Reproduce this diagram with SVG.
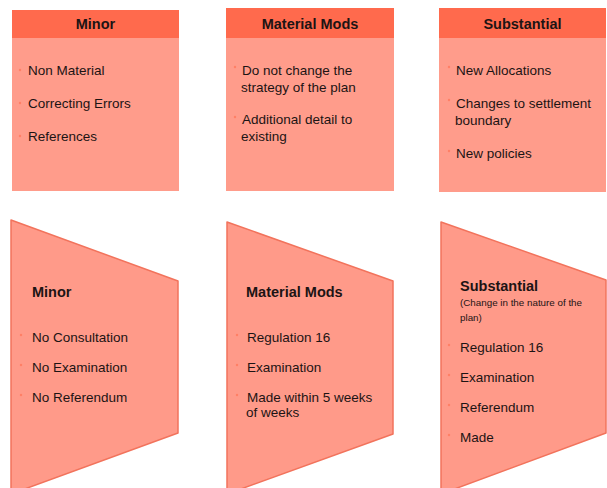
<svg xmlns="http://www.w3.org/2000/svg" width="607" height="488" viewBox="0 0 607 488">
  <style>
    .hdr { fill: #ff6a4d; }
    .body { fill: #ff9c8b; }
    .trap { fill: #ff9a89; stroke: #f2735c; stroke-width: 1.5; stroke-linejoin: round; }
    text { font-family: "Liberation Sans", Arial, sans-serif; fill: #1c1414; }
    .title { font-size: 14.5px; font-weight: bold; }
    .item { font-size: 13.5px; }
    .note { font-size: 9.8px; }
    .dot { fill: #ff7f66; }
  </style>
  <rect width="607" height="488" fill="#ffffff"/>

  <!-- Upper row: category cards -->
  <g id="card-minor">
    <rect class="body" x="12" y="10" width="167" height="181"/>
    <rect class="hdr" x="12" y="10" width="167" height="28"/>
    <text class="title" x="95.5" y="29" text-anchor="middle">Minor</text>
    <circle class="dot" cx="20" cy="70" r="1.2"/>
    <text class="item" x="28" y="75">Non Material</text>
    <circle class="dot" cx="20" cy="103" r="1.2"/>
    <text class="item" x="28" y="108">Correcting Errors</text>
    <circle class="dot" cx="20" cy="136" r="1.2"/>
    <text class="item" x="28" y="141">References</text>
  </g>

  <g id="card-material">
    <rect class="body" x="226" y="8" width="168" height="183"/>
    <rect class="hdr" x="226" y="8" width="168" height="30"/>
    <text class="title" x="310" y="29" text-anchor="middle">Material Mods</text>
    <circle class="dot" cx="235" cy="67" r="1.2"/>
    <text class="item" x="242" y="75">Do not change the</text>
    <text class="item" x="241" y="92">strategy of the plan</text>
    <circle class="dot" cx="235" cy="117" r="1.2"/>
    <text class="item" x="242" y="124">Additional detail to</text>
    <text class="item" x="241" y="141">existing</text>
  </g>

  <g id="card-substantial">
    <rect class="body" x="439" y="8" width="167" height="184"/>
    <rect class="hdr" x="439" y="8" width="167" height="30"/>
    <text class="title" x="522.5" y="29" text-anchor="middle">Substantial</text>
    <circle class="dot" cx="449" cy="67" r="1.2"/>
    <text class="item" x="456" y="75">New Allocations</text>
    <circle class="dot" cx="449" cy="100" r="1.2"/>
    <text class="item" x="456" y="108">Changes to settlement</text>
    <text class="item" x="455" y="125">boundary</text>
    <circle class="dot" cx="449" cy="151" r="1.2"/>
    <text class="item" x="456" y="158">New policies</text>
  </g>

  <!-- Lower row: process trapezoids -->
  <g id="process-minor">
    <polygon class="trap" points="11,220 178,281 178,433 11,494"/>
    <text class="title" x="32" y="297">Minor</text>
    <circle class="dot" cx="21" cy="335" r="1.2"/>
    <text class="item" x="32" y="342">No Consultation</text>
    <circle class="dot" cx="21" cy="365" r="1.2"/>
    <text class="item" x="32" y="372">No Examination</text>
    <circle class="dot" cx="21" cy="395" r="1.2"/>
    <text class="item" x="32" y="402">No Referendum</text>
  </g>

  <g id="process-material">
    <polygon class="trap" points="227,222 393,281 393,434 227,494"/>
    <text class="title" x="246" y="297">Material Mods</text>
    <circle class="dot" cx="237" cy="335" r="1.2"/>
    <text class="item" x="247" y="342">Regulation 16</text>
    <circle class="dot" cx="237" cy="365" r="1.2"/>
    <text class="item" x="247" y="372">Examination</text>
    <circle class="dot" cx="237" cy="395" r="1.2"/>
    <text class="item" x="247" y="402">Made within 5 weeks</text>
    <text class="item" x="246" y="417">of weeks</text>
  </g>

  <g id="process-substantial">
    <polygon class="trap" points="441,222 606,280 606,433 441,494"/>
    <text class="title" x="460" y="291">Substantial</text>
    <text class="note" x="460" y="306">(Change in the nature of the</text>
    <text class="note" x="460" y="321">plan)</text>
    <circle class="dot" cx="449" cy="345" r="1.2"/>
    <text class="item" x="460" y="352">Regulation 16</text>
    <circle class="dot" cx="449" cy="375" r="1.2"/>
    <text class="item" x="460" y="382">Examination</text>
    <circle class="dot" cx="449" cy="405" r="1.2"/>
    <text class="item" x="460" y="412">Referendum</text>
    <circle class="dot" cx="449" cy="435" r="1.2"/>
    <text class="item" x="460" y="442">Made</text>
  </g>

  <!-- No connectors are drawn between the cards -->
  <g id="connectors"/>
</svg>
